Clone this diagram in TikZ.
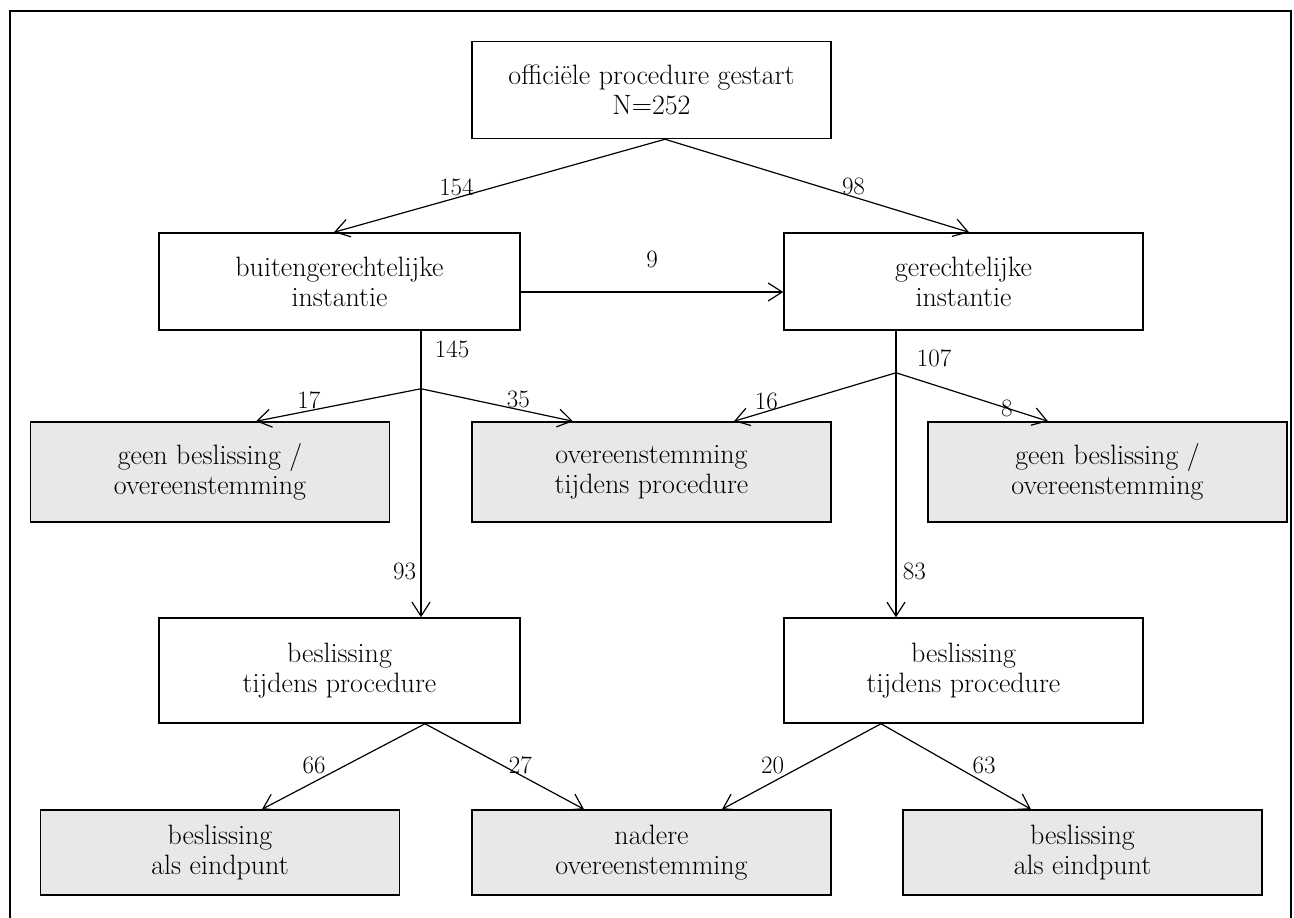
\documentclass[tikz,border=0pt]{standalone}
\usepackage{fontspec}
\usetikzlibrary{arrows.meta}
\definecolor{boxgray}{RGB}{232,232,232}

\begin{document}
\begin{tikzpicture}[
            x=1pt, y=-1pt,
            font=\fontsize{25}{30}\selectfont,
            box/.style={rectangle, draw, line width=1.5pt, minimum width=359pt, minimum height=97pt, align=center, inner sep=0pt, font=\fontsize{28}{30}\selectfont},
            endbox/.style={box, fill=boxgray},
            arrow/.style={-{Straight Barb[length=14pt,width=18pt]}, line width=1.2pt},
            lbl/.style={inner sep=1pt}
        ]
            \useasboundingbox (0,0) rectangle (1294,918);
            \draw[line width=1.5pt] (10,918) -- (10,11) -- (1291,11) -- (1291,918);

            % Nodes
            \node[box] (start) at (651.5,90) {officiële procedure gestart\\N=252};
            \node[box, minimum width=361pt] (buiten) at (339.5,281.5) {buitengerechtelijke\\instantie};
            \node[box] (gerecht) at (963.5,281.5) {gerechtelijke\\instantie};
            \node[endbox, minimum height=100pt] (geenL) at (210,472) {geen beslissing /\\overeenstemming};
            \node[endbox, minimum height=100pt] (overeen) at (651.5,472) {overeenstemming\\tijdens procedure};
            \node[endbox, minimum height=100pt] (geenR) at (1107.5,472) {geen beslissing /\\overeenstemming};
            \node[box, minimum width=361pt, minimum height=105pt] (beslL) at (339.5,670.5) {beslissing\\tijdens procedure};
            \node[box, minimum height=105pt] (beslR) at (963.5,670.5) {beslissing\\tijdens procedure};
            \node[endbox, minimum height=85pt] (eindL) at (220,852.5) {beslissing\\als eindpunt};
            \node[endbox, minimum height=85pt] (nadere) at (651.5,852.5) {nadere\\overeenstemming};
            \node[endbox, minimum height=85pt] (eindR) at (1082.5,852.5) {beslissing\\als eindpunt};

            % Split points
            \coordinate (splitL) at ([xshift=81.5pt,yshift=-58pt]buiten.south);
            \coordinate (splitR) at ([xshift=-67.5pt,yshift=-42pt]gerecht.south);

            % Arrows
            \draw[arrow] ([xshift=13.5pt]start.south) -- node[pos=0.63, above, lbl] {154} ([xshift=-5.5pt]buiten.north);
            \draw[arrow] ([xshift=13.5pt]start.south) -- node[pos=0.62, above, lbl] {98} ([xshift=5.5pt]gerecht.north);
            \draw[arrow] ([yshift=-10.5pt]buiten.east) -- node[above=20pt] {9} ([yshift=-10.5pt]gerecht.west);

            \draw[arrow] ([xshift=81.5pt]buiten.south) -- node[pos=0.065, right=10pt] {145} node[pos=0.84, left=1pt] {93} ([xshift=81.5pt]beslL.north);
            \draw[arrow] (splitL) -- node[pos=0.68, above, lbl] {17} ([xshift=46pt]geenL.north);
            \draw[arrow] (splitL) -- node[pos=0.64, above, lbl] {35} ([xshift=-78.5pt]overeen.north);

            \draw[arrow] ([xshift=-67.5pt]gerecht.south) -- node[pos=0.095, right=17pt] {107} node[pos=0.84, right=3pt] {83} ([xshift=-67.5pt]beslR.north);
            \draw[arrow] (splitR) -- node[pos=0.8, above, lbl] {16} ([xshift=82.5pt]overeen.north);
            \draw[arrow] (splitR) -- node[pos=0.73, lbl] {8} ([xshift=-59.5pt]geenR.north);

            \draw[arrow] ([xshift=85.5pt]beslL.south) -- node[pos=0.6, above left, lbl] {66} ([xshift=42pt]eindL.north);
            \draw[arrow] ([xshift=85.5pt]beslL.south) -- node[pos=0.6, above, lbl] {27} ([xshift=-67.5pt]nadere.north);
            \draw[arrow] ([xshift=-82.5pt]beslR.south) -- node[pos=0.6, above left, lbl] {20} ([xshift=70.5pt]nadere.north);
            \draw[arrow] ([xshift=-82.5pt]beslR.south) -- node[pos=0.6, above right, lbl] {63} ([xshift=-51.5pt]eindR.north);
        \end{tikzpicture}
\end{document}
